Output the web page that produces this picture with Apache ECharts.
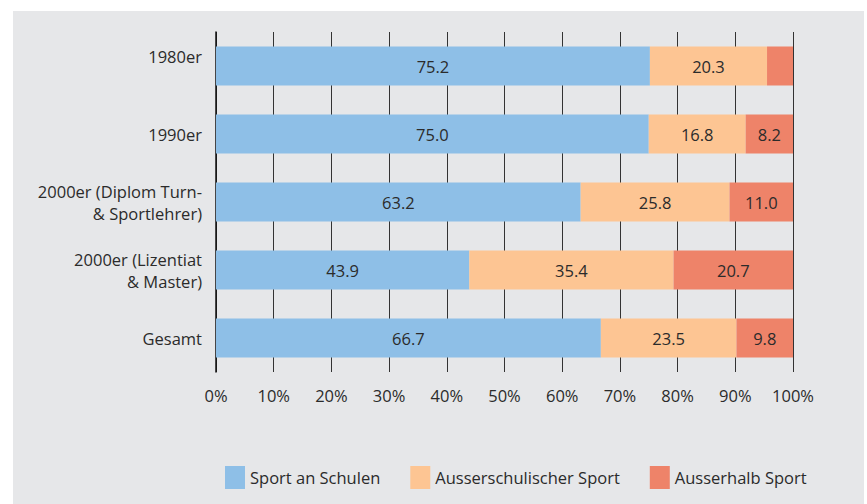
<!DOCTYPE html>
<html>
<head>
<meta charset="utf-8">
<script src="https://cdn.jsdelivr.net/npm/echarts@6/dist/echarts.min.js"></script>
<style>
  html, body { margin: 0; padding: 0; background: #fff; }
  #panel { position: absolute; left: 13px; top: 11px; width: 851px; height: 493px; background: #e6e7e9; }
  #chart { position: absolute; left: 0; top: 0; width: 867px; height: 504px; }
</style>
</head>
<body>
<div id="panel"></div>
<div id="chart"></div>
<script>
var categories = ['1980er', '1990er', '2000er (Diplom Turn-\n& Sportlehrer)', '2000er (Lizentiat\n& Master)', 'Gesamt'];
var schulen = [75.2, 75.0, 63.2, 43.9, 66.7];
var ausserschulisch = [20.3, 16.8, 25.8, 35.4, 23.5];
var ausserhalb = [4.5, 8.2, 11.0, 20.7, 9.8];
var seriesNames = ['Sport an Schulen', 'Ausserschulischer Sport', 'Ausserhalb Sport'];
var ticks = [0, 10, 20, 30, 40, 50, 60, 70, 80, 90, 100];

(function() {
  var font = '"Open Sans", "Noto Sans", sans-serif';
  var ink = '#2b2b2b';
  var fs = 16.5;
  var colors = ['#8ebfe7', '#fdc593', '#ee8369'];

  var chart = echarts.init(document.getElementById('chart'), null, { renderer: 'svg' });

  function label() {
    return {
      show: true,
      position: 'inside',
      color: ink,
      fontSize: fs,
      fontFamily: font,
      formatter: function(p) { return p.value < 5 ? '' : p.value.toFixed(1); }
    };
  }

  var data = [schulen, ausserschulisch, ausserhalb];
  var series = data.map(function(vals, i) {
    return {
      name: seriesNames[i],
      type: 'bar',
      stack: 'total',
      barWidth: 39,
      data: vals,
      itemStyle: { color: colors[i] },
      label: label()
    };
  });

  chart.setOption({
    animation: false,
    backgroundColor: 'transparent',
    textStyle: { fontFamily: font },
    grid: { left: 216, right: 74, top: 32, height: 340 },
    legend: {
      left: 220,
      top: 461,
      itemWidth: 20,
      itemHeight: 23,
      itemGap: 30,
      icon: 'rect',
      textStyle: { color: ink, fontSize: fs, fontFamily: font },
      data: seriesNames
    },
    xAxis: {
      type: 'value',
      min: ticks[0],
      max: ticks[ticks.length - 1],
      interval: 10,
      axisLine: { show: false },
      axisTick: { show: false },
      splitLine: { show: true, lineStyle: { color: '#333', width: 1 } },
      axisLabel: { color: ink, fontSize: fs, fontFamily: font, margin: 15, formatter: '{value}%' }
    },
    yAxis: {
      type: 'category',
      inverse: true,
      data: categories,
      axisLine: { show: true, lineStyle: { color: '#111', width: 1.5 } },
      axisTick: { show: false },
      axisLabel: {
        color: ink, fontSize: fs, fontFamily: font, margin: 14, lineHeight: 22, align: 'right',
        // the first label sits a little above its bar in the original
        formatter: function(v, i) { return i === 0 ? '{up|' + v + '}' : v; },
        rich: {
          up: { color: ink, fontSize: fs, fontFamily: font, padding: [0, 0, 20, 0] }
        }
      }
    },
    series: series
  });
})();
</script>
</body>
</html>
